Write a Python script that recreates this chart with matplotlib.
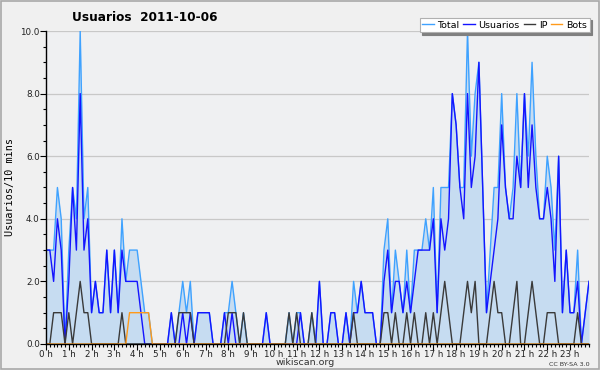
import matplotlib
matplotlib.use("Agg")
import matplotlib.pyplot as plt
from matplotlib.patches import Rectangle
from matplotlib.ticker import MultipleLocator, FormatStrFormatter


# one value every 10 minutes, 144 slots for the day
total = [
    3, 3, 3, 5, 4, 0, 3, 5, 4, 10, 4, 5, 1, 2, 1, 1, 3, 1, 3, 1, 4, 2, 3, 3,
    3, 2, 1, 1, 0, 0, 0, 0, 0, 1, 0, 1, 2, 1, 2, 0, 1, 1, 1, 1, 0, 0, 0, 1,
    1, 2, 1, 0, 1, 0, 0, 0, 0, 0, 1, 0, 0, 0, 0, 0, 1, 0, 1, 1, 0, 0, 1, 0,
    2, 0, 0, 1, 1, 0, 0, 1, 0, 2, 1, 2, 1, 1, 1, 0, 0, 3, 4, 1, 3, 2, 1, 3,
    1, 3, 3, 3, 4, 3, 5, 1, 5, 5, 5, 8, 7, 5, 5, 10, 6, 8, 9, 5, 1, 3, 5, 5,
    8, 5, 4, 5, 8, 5, 8, 6, 9, 6, 4, 4, 6, 5, 3, 6, 1, 3, 1, 1, 3, 0, 1, 2,
]
usuarios = [
    3, 3, 2, 4, 3, 0, 2, 5, 3, 8, 3, 4, 1, 2, 1, 1, 3, 1, 3, 1, 3, 2, 2, 2,
    2, 1, 0, 0, 0, 0, 0, 0, 0, 1, 0, 0, 1, 0, 1, 0, 1, 1, 1, 1, 0, 0, 0, 1,
    0, 1, 0, 0, 0, 0, 0, 0, 0, 0, 1, 0, 0, 0, 0, 0, 0, 0, 0, 1, 0, 0, 0, 0,
    2, 0, 0, 1, 1, 0, 0, 1, 0, 1, 1, 2, 1, 1, 1, 0, 0, 2, 3, 1, 2, 2, 1, 2,
    1, 2, 3, 3, 3, 3, 4, 1, 4, 3, 4, 8, 7, 5, 4, 8, 5, 6, 9, 5, 1, 2, 3, 4,
    7, 5, 4, 4, 6, 5, 8, 5, 7, 5, 4, 4, 5, 4, 2, 6, 1, 3, 1, 1, 2, 0, 1, 2,
]
ip = [
    0, 0, 1, 1, 1, 0, 1, 0, 1, 2, 1, 1, 0, 0, 0, 0, 0, 0, 0, 0, 1, 0, 0, 0,
    0, 0, 0, 0, 0, 0, 0, 0, 0, 0, 0, 1, 1, 1, 1, 0, 0, 0, 0, 0, 0, 0, 0, 0,
    1, 1, 1, 0, 1, 0, 0, 0, 0, 0, 0, 0, 0, 0, 0, 0, 1, 0, 1, 0, 0, 0, 1, 0,
    0, 0, 0, 0, 0, 0, 0, 0, 0, 1, 0, 0, 0, 0, 0, 0, 0, 1, 1, 0, 1, 0, 0, 1,
    0, 1, 0, 0, 1, 0, 1, 0, 1, 2, 1, 0, 0, 0, 1, 2, 1, 2, 0, 0, 0, 1, 2, 1,
    1, 0, 0, 1, 2, 0, 0, 1, 2, 1, 0, 0, 1, 1, 1, 0, 0, 0, 0, 0, 1, 0, 0, 0,
]
bots = [0] * 22 + [1, 1, 1, 1, 1, 1] + [0] * 116

hour_labels = ["%d h" % h for h in range(24)]

slots = list(range(len(total)))

fig = plt.figure(figsize=(6.0, 3.7), dpi=100, facecolor="#f0f0f0")
fig.patches.append(Rectangle((0.001, 0.002), 0.997, 0.995, transform=fig.transFigure,
                             fill=False, edgecolor="#a8a8a8", lw=1.2))
ax = fig.add_axes([0.0767, 0.0703, 0.905, 0.8459])
ax.set_facecolor("#eff0f2")

ax.fill_between(slots, total, 0, color="#c6dcf1", lw=0)
ax.plot(slots, total, color="#3fa2ff", lw=1.0, label="Total")
ax.plot(slots, usuarios, color="#1414ff", lw=1.0, label="Usuarios")
ax.plot(slots, ip, color="#3a3a3a", lw=1.0, label="IP")
ax.plot(slots, bots, color="#ff9a1a", lw=1.0, label="Bots")

ax.set_xlim(0, len(total) - 1)
ax.set_ylim(0, 10)

ax.set_xticks(range(0, 144, 6))
ax.set_xticklabels(hour_labels)
ax.xaxis.set_minor_locator(MultipleLocator(1))
ax.yaxis.set_major_locator(MultipleLocator(2))
ax.yaxis.set_minor_locator(MultipleLocator(0.5))
ax.yaxis.set_major_formatter(FormatStrFormatter("%.1f"))
ax.tick_params(axis="both", which="major", labelsize=6.3, length=4, width=0.8,
               pad=0.5, colors="black", labelcolor="#222222")
ax.tick_params(axis="both", which="minor", length=2.5, width=0.8)
ax.grid(axis="y", color="#c8c8c8", lw=0.9)
ax.set_axisbelow(True)

for side in ("top", "right"):
    ax.spines[side].set_visible(False)
for side in ("left", "bottom"):
    ax.spines[side].set_linewidth(1.0)

fig.text(0.016, 0.494, "Usuarios/10 mins", rotation=90, ha="center", va="center",
         family="DejaVu Sans Mono", fontsize=7.3)

fig.text(0.242, 0.953, "Usuarios  2011-10-06", ha="center", va="center",
         fontsize=8.7, fontweight="bold")
fig.text(0.508, 0.019, "wikiscan.org", ha="center", va="center", fontsize=6.8, color="#333333")
fig.text(0.983, 0.014, "CC BY-SA 3.0", ha="right", va="center", fontsize=4.6, color="#333333")

leg = ax.legend(loc="upper right", bbox_to_anchor=(0.983, 0.952), bbox_transform=fig.transFigure,
                ncol=4, fontsize=6.8, frameon=True, fancybox=False, handlelength=1.2,
                handletextpad=0.4, columnspacing=0.4, borderpad=0.3, borderaxespad=0,
                shadow={"color": "#808080", "alpha": 1.0, "ox": 1.5, "oy": -1.5})
leg.get_frame().set_edgecolor("#b0b0b0")
leg.get_frame().set_linewidth(0.8)
leg.get_frame().set_facecolor("white")

plt.savefig("out.png", dpi=100, facecolor=fig.get_facecolor())
plt.close()
